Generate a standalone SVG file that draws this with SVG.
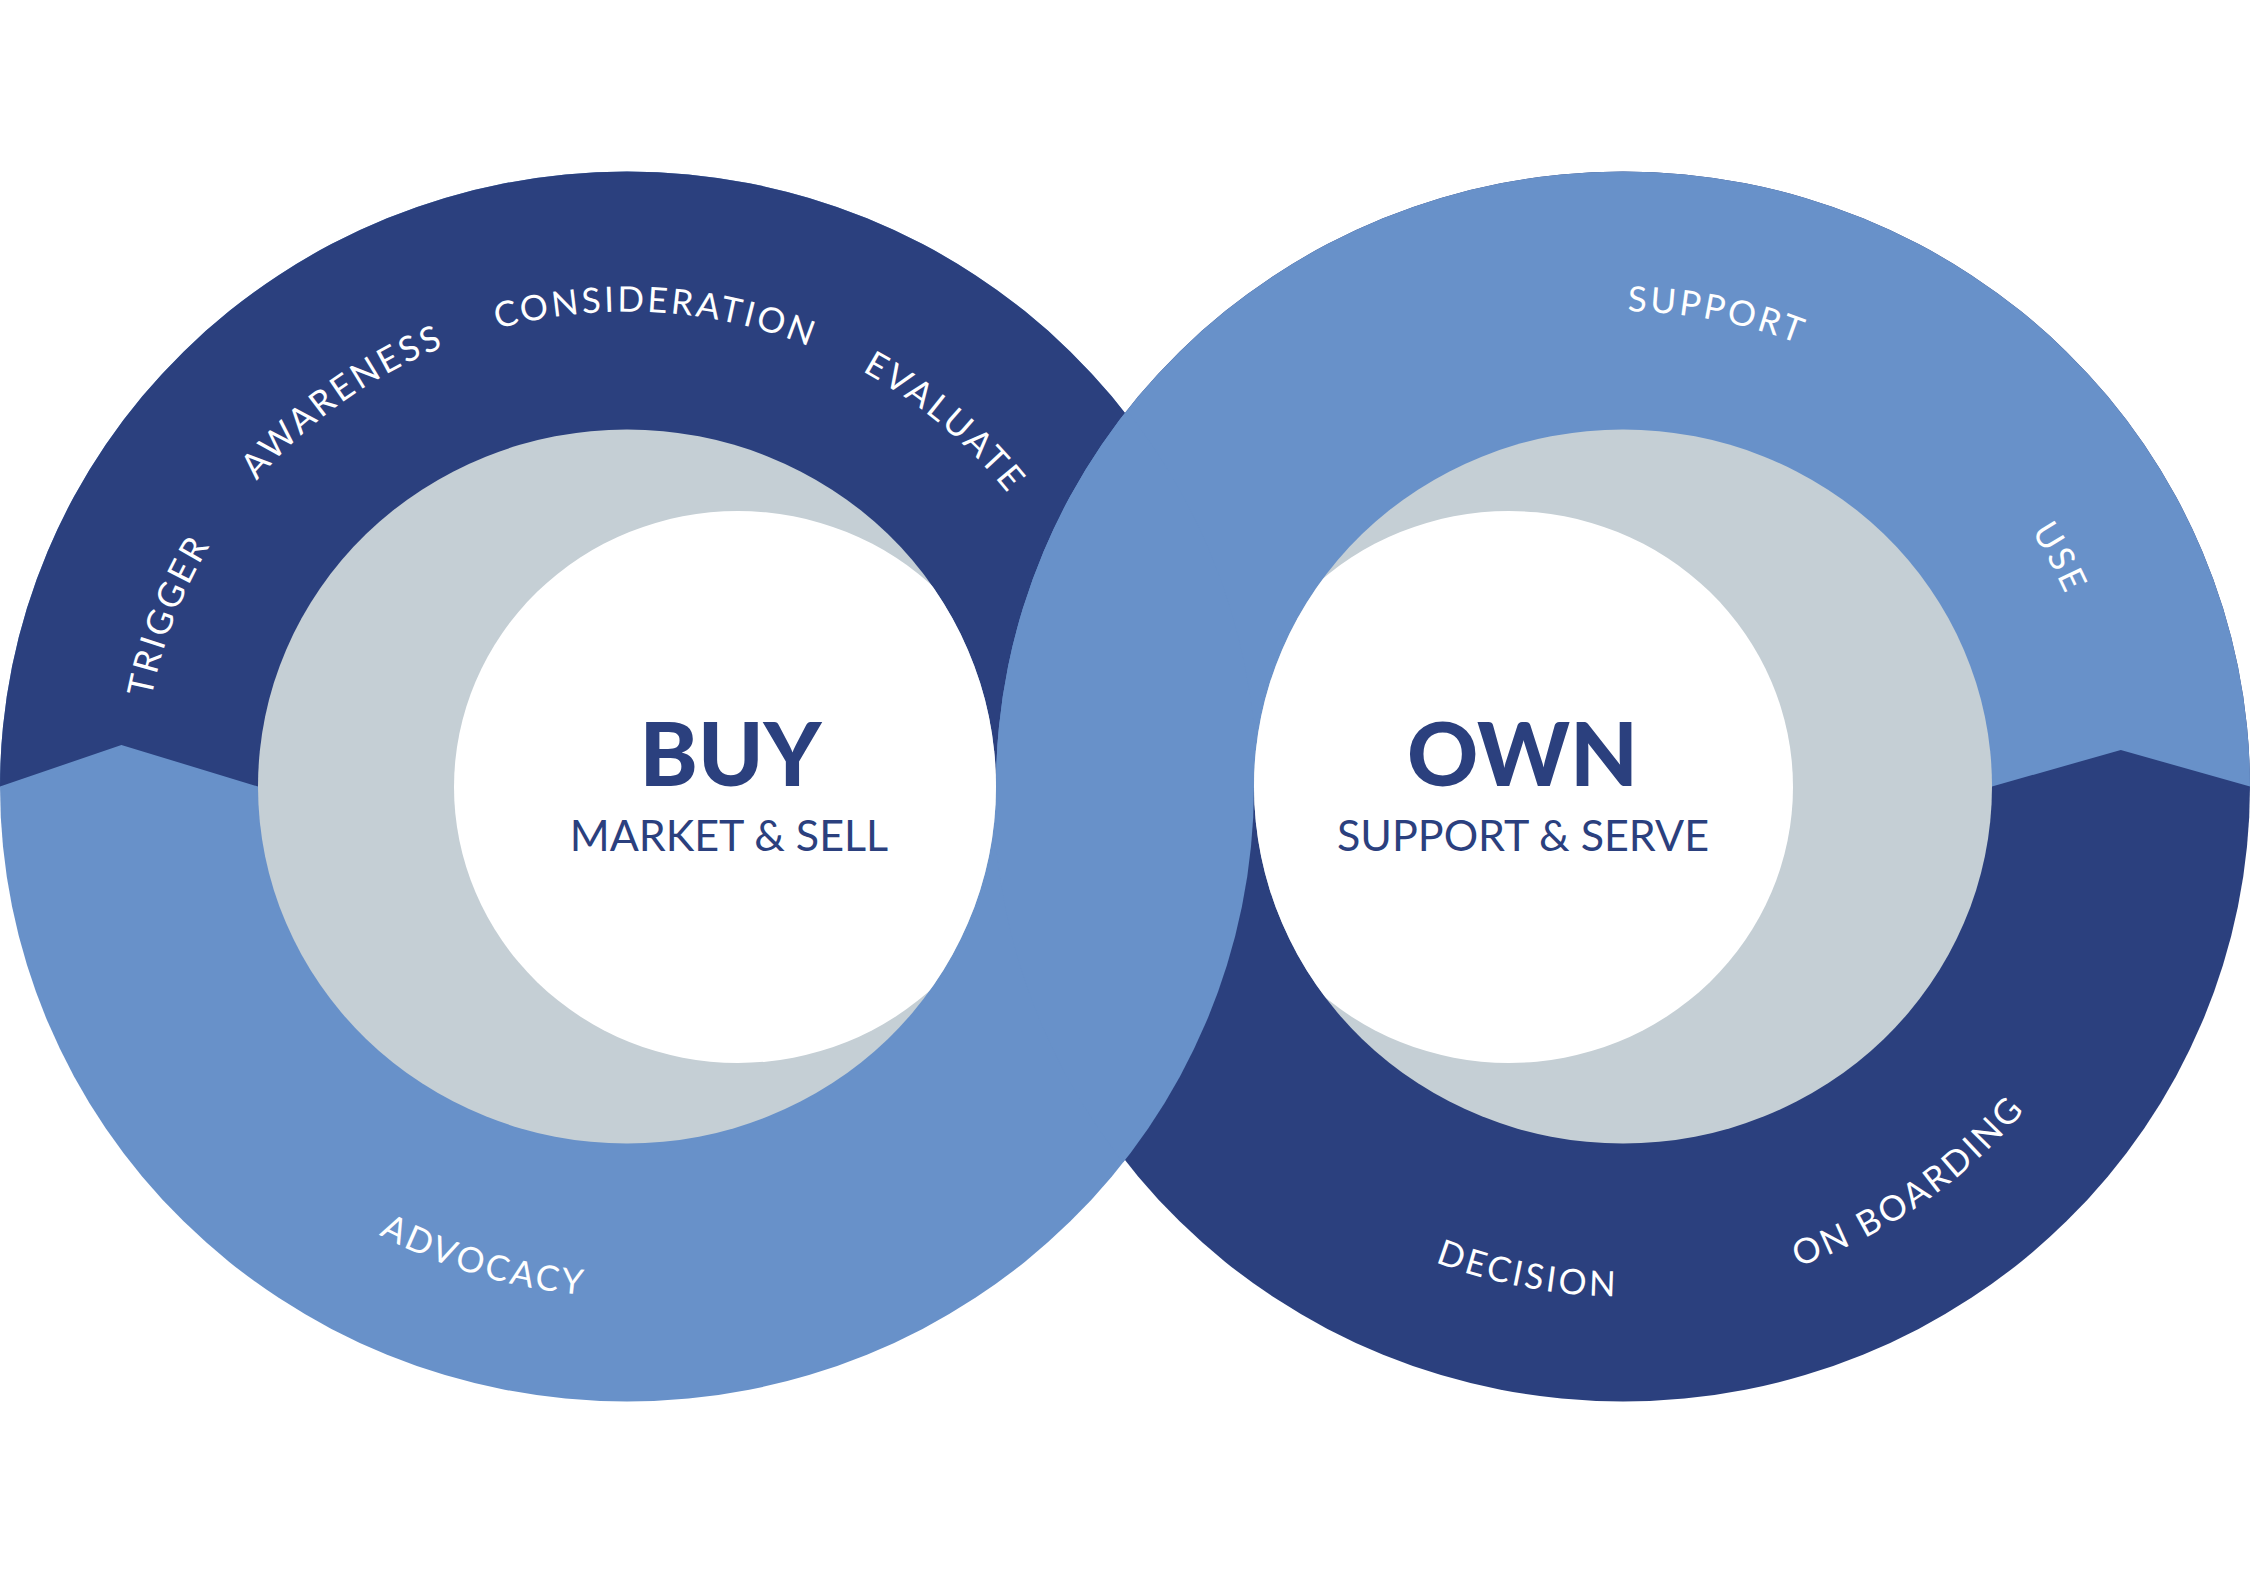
<svg xmlns="http://www.w3.org/2000/svg" xmlns:xlink="http://www.w3.org/1999/xlink" width="2250" height="1575" viewBox="0 0 2250 1575">
  <style>
    .dark { fill: #2B407E; }
    .light { fill: #6891C9; }
    .gray { fill: #C5CFD5; }
    .white { fill: #FFFFFF; }
    .lbl { font-family: Lato, "Liberation Sans", sans-serif; font-size: 35px; letter-spacing: 3px; fill: #FFFFFF; }
    .title { font-family: Lato, "Liberation Sans", sans-serif; font-size: 88px; font-weight: 900; fill: #2B407E; text-anchor: middle; }
    .sub { font-family: Lato, "Liberation Sans", sans-serif; font-size: 43px; fill: #2B407E; text-anchor: middle; }
  </style>
  <defs>
    <clipPath id="clipLeftOuter"><ellipse cx="627" cy="786.5" rx="627" ry="615"/></clipPath>
    <clipPath id="clipLeftOuterBig"><ellipse cx="627" cy="786.5" rx="630" ry="618"/></clipPath>
    <clipPath id="clipTop"><rect x="0" y="0" width="2250" height="788"/></clipPath>
    <clipPath id="clipBottom"><rect x="0" y="785" width="2250" height="790"/></clipPath>
    <clipPath id="clipLeftGray"><ellipse cx="627" cy="786.5" rx="369" ry="357"/></clipPath>
    <clipPath id="clipRightGray"><ellipse cx="1623" cy="786.5" rx="369" ry="357"/></clipPath>
    <path id="pTrigger" d="M 253.5 1088.6 A 484 475 0 0 1 547.1 318.0"/>
    <path id="pAwareness" d="M 145.9 838.6 A 484 475 0 0 1 821.5 351.6"/>
    <path id="pConsideration" d="M 223.4 524.3 A 484 475 0 0 1 1060.1 574.6"/>
    <path id="pEvaluate" d="M 469.4 337.4 A 484 475 0 0 1 1102.1 877.1"/>
    <path id="pSupport" d="M 1258.8 473.6 A 484 475 0 0 1 2081.2 633.4"/>
    <path id="pUse" d="M 1642.4 311.9 A 484 475 0 0 1 2032.1 1040.3"/>
    <path id="pAdvocacy" d="M 120.7 903.0 A 520 510 0 0 0 983.1 1158.2"/>
    <path id="pDecision" d="M 1131.3 952.5 A 520 510 0 0 0 2015.4 1121.1"/>
    <path id="pOnboarding" d="M 1408.2 1250.9 A 520 510 0 0 0 2140.5 736.7"/>
  </defs>

  <rect width="2250" height="1575" fill="#FFFFFF"/>

  <g id="left-ring">
    <ellipse class="light" cx="627" cy="786.5" rx="627" ry="615"/>
    <path class="dark" d="M 0 786.5 A 627 615 0 0 1 1254 786.5 L 258 786.5 L 121.4 745 Z"/>
  </g>

  <g id="right-ring">
    <ellipse class="dark" cx="1623" cy="786.5" rx="627" ry="615"/>
    <path class="light" d="M 996 786.5 A 627 615 0 0 1 2250 786.5 L 2120.8 750 L 1992 786.5 Z"/>
  </g>

  <g id="crossing">
    <g clip-path="url(#clipTop)">
      <ellipse class="light" cx="1623" cy="786.5" rx="627" ry="615" clip-path="url(#clipLeftOuterBig)"/>
    </g>
    <g clip-path="url(#clipBottom)">
      <ellipse class="light" cx="1623" cy="786.5" rx="630" ry="618" clip-path="url(#clipLeftOuter)"/>
    </g>
  </g>

  <g id="buy-node">
    <ellipse class="gray" cx="627" cy="786.5" rx="369" ry="357"/>
    <ellipse class="white" cx="738" cy="787" rx="284" ry="276" clip-path="url(#clipLeftGray)"/>
    <text class="title" x="730.5" y="786">BUY</text>
    <text class="sub" x="729" y="851">MARKET &amp; SELL</text>
  </g>

  <g id="own-node">
    <ellipse class="gray" cx="1623" cy="786.5" rx="369" ry="357"/>
    <ellipse class="white" cx="1509" cy="787" rx="284" ry="276" clip-path="url(#clipRightGray)"/>
    <text class="title" x="1522.5" y="786">OWN</text>
    <text class="sub" x="1523" y="851">SUPPORT &amp; SERVE</text>
  </g>

  <g id="stage-labels">
    <text class="lbl"><textPath xlink:href="#pTrigger" href="#pTrigger" startOffset="50%" text-anchor="middle">TRIGGER</textPath></text>
    <text class="lbl"><textPath xlink:href="#pAwareness" href="#pAwareness" startOffset="50%" text-anchor="middle">AWARENESS</textPath></text>
    <text class="lbl"><textPath xlink:href="#pConsideration" href="#pConsideration" startOffset="50%" text-anchor="middle">CONSIDERATION</textPath></text>
    <text class="lbl"><textPath xlink:href="#pEvaluate" href="#pEvaluate" startOffset="50%" text-anchor="middle">EVALUATE</textPath></text>
    <text class="lbl"><textPath xlink:href="#pSupport" href="#pSupport" startOffset="50%" text-anchor="middle">SUPPORT</textPath></text>
    <text class="lbl"><textPath xlink:href="#pUse" href="#pUse" startOffset="50%" text-anchor="middle">USE</textPath></text>
    <text class="lbl"><textPath xlink:href="#pAdvocacy" href="#pAdvocacy" startOffset="50%" text-anchor="middle">ADVOCACY</textPath></text>
    <text class="lbl"><textPath xlink:href="#pDecision" href="#pDecision" startOffset="50%" text-anchor="middle">DECISION</textPath></text>
    <text class="lbl"><textPath xlink:href="#pOnboarding" href="#pOnboarding" startOffset="50%" text-anchor="middle">ON BOARDING</textPath></text>
  </g>
</svg>
